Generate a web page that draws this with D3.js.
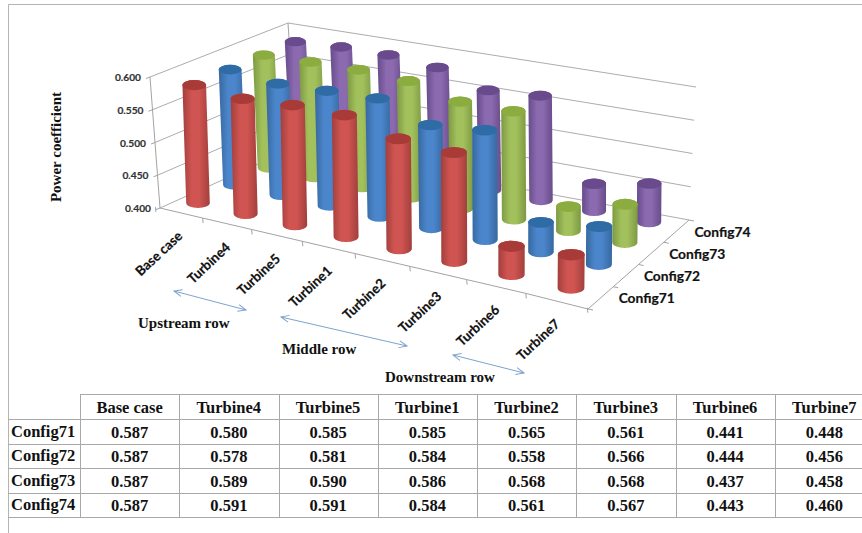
<!DOCTYPE html>
<html><head><meta charset="utf-8">
<script src="https://cdnjs.cloudflare.com/ajax/libs/d3/7.8.5/d3.min.js"></script>
<style>html,body{margin:0;padding:0;background:#fff}svg{display:block}</style>
</head><body><svg id="c" width="862" height="533"></svg>
<script>
const categories=["Base case","Turbine4","Turbine5","Turbine1","Turbine2","Turbine3","Turbine6","Turbine7"];
const configs=["Config71","Config72","Config73","Config74"];
const config71=[0.587,0.580,0.585,0.585,0.565,0.561,0.441,0.448];
const config72=[0.587,0.578,0.581,0.584,0.558,0.566,0.444,0.456];
const config73=[0.587,0.589,0.590,0.586,0.568,0.568,0.437,0.458];
const config74=[0.587,0.591,0.591,0.584,0.561,0.567,0.443,0.460];
const series=[config71,config72,config73,config74];
const valueTicks=[0.4,0.45,0.5,0.55,0.6];
const colors=[
 {mid:"#d05552",edge:"#a23f3c",top:"#a83b38"},
 {mid:"#4b86cc",edge:"#37689f",top:"#2f6ca6"},
 {mid:"#a2c15c",edge:"#7c9943",top:"#8bac3f"},
 {mid:"#8c6ab0",edge:"#674c8a",top:"#694a8c"}];

const svg=d3.select("#c");
const defs=svg.append("defs");
colors.forEach((c,k)=>{
 const g=defs.append("linearGradient").attr("id","g"+k).attr("x1",0).attr("x2",1).attr("y1",0).attr("y2",0);
 [[0,c.edge],[.35,c.mid],[.6,c.mid],[1,c.edge]].forEach(s=>g.append("stop").attr("offset",s[0]).attr("stop-color",s[1]));
});
const mk=defs.append("marker").attr("id","ah").attr("markerWidth",12).attr("markerHeight",10).attr("refX",9).attr("refY",4)
 .attr("orient","auto-start-reverse").attr("markerUnits","userSpaceOnUse");
mk.append("path").attr("d","M1,0.5L9,4L1,7.5").attr("fill","none").attr("stroke","#7ea3cc").attr("stroke-width",1);

function homography(p){
 const [a,b,c,d]=p;
 const dx1=b[0]-c[0],dx2=d[0]-c[0],sx=a[0]-b[0]+c[0]-d[0];
 const dy1=b[1]-c[1],dy2=d[1]-c[1],sy=a[1]-b[1]+c[1]-d[1];
 const det=dx1*dy2-dx2*dy1;
 const g=(sx*dy2-dx2*sy)/det,h=(dx1*sy-sx*dy1)/det;
 const A=b[0]-a[0]+g*b[0],B=d[0]-a[0]+h*d[0],C=a[0];
 const D=b[1]-a[1]+g*b[1],E=d[1]-a[1]+h*d[1],F=a[1];
 return (u,v)=>{const w=g*u+h*v+1;return[(A*u+B*v+C)/w,(D*u+E*v+F)/w];};
}
const cellH=homography([[198,203],[571,288],[649,222],[301,152]]);
const wallBottom=[[160,208],[296,147],[689,220]];
const wallTop=[[150,77],[288,23],[696,87]];
const frontRight=[588,309],backRight=wallBottom[2];

const x=d3.scalePoint().domain(categories).range([0,1]);
const z=d3.scalePoint().domain(configs).range([0,1]);
const y=d3.scaleLinear().domain([0.4,0.6]).range([0,1]);
const uStep=x.step(),vStep=z.step(),vMin=-vStep/2,uMin=-uStep/2;
const rightEdge=d3.scaleLinear().domain([0,4]).range([0,1]);
const rightPoint=t=>{const f=rightEdge(t);return[frontRight[0]+(backRight[0]-frontRight[0])*f,frontRight[1]+(backRight[1]-frontRight[1])*f];};
const bilin=(u,v,q)=>(1-v)*((1-u)*q[0]+u*q[1])+v*((1-u)*q[3]+u*q[2]);
const fullHeight=[126,139,128,118],lean=[-4,1,1,-6],radiusQ=[11.8,13.4,12.2,10.6];
const line=d3.line();
const gridCol="#a3a3a3";
const G=svg.append("g");

G.append("path").attr("d","M8.5,533V4.5H862").attr("fill","none").attr("stroke","#b4b4b4");

// walls
valueTicks.forEach(t=>{
 const f=y(t),pts=wallBottom.map((b,i)=>[b[0]+(wallTop[i][0]-b[0])*f,b[1]+(wallTop[i][1]-b[1])*f]);
 G.append("path").attr("d",line(pts)).attr("fill","none").attr("stroke",gridCol).attr("stroke-width",.9);
 const p=pts[0];
 G.append("path").attr("d",line([p,[p[0]-4,p[1]+1.5]])).attr("stroke",gridCol);
 G.append("text").attr("x",p[0]-9).attr("y",p[1]).attr("text-anchor","end").attr("dominant-baseline","central")
  .attr("font-family","Lato").attr("font-weight",700).attr("font-size",10.2).attr("fill","#333").attr("stroke","#333").attr("stroke-width",.2).text(t.toFixed(3));
});
[0,1].forEach(i=>G.append("path").attr("d",line([wallBottom[i],wallTop[i]])).attr("stroke",gridCol).attr("fill","none"));
// floor edges
const frontTicks=d3.range(9).map(i=>cellH(uMin+i*uStep,vMin));
G.append("path").attr("d",line([wallBottom[0],...frontTicks.slice(1,8),frontRight,backRight])).attr("fill","none").attr("stroke",gridCol);
frontTicks.forEach(p=>G.append("path").attr("d",line([p,[p[0]+.5,p[1]+5]])).attr("stroke",gridCol));
d3.range(5).forEach(j=>{
 const p=rightPoint(j);
 G.append("path").attr("d",line([p,[p[0]+5,p[1]+1]])).attr("stroke",gridCol);
});

// category labels
categories.forEach(c=>{
 const p=cellH(x(c),vMin);
 G.append("text").attr("transform",`translate(${p[0]+1},${p[1]+21}) rotate(-43)`).attr("text-anchor","end").attr("dominant-baseline","central")
  .attr("font-family","Lato").attr("font-weight",700).attr("font-size",13.4).attr("fill","#111").attr("stroke","#111").attr("stroke-width",.2).text(c);
});
configs.forEach((c,j)=>{
 const p=rightPoint(j+.5);
 G.append("text").attr("x",p[0]+18).attr("y",p[1]).attr("dominant-baseline","central")
  .attr("font-family","Lato").attr("font-weight",700).attr("font-size",13.8).attr("fill","#111").attr("stroke","#111").attr("stroke-width",.2).text(c);
});

// cylinders back to front
d3.range(3,-1,-1).forEach(j=>{
 categories.forEach((c,i)=>{
  const v=series[j][i],u=x(c),w=z(configs[j]);
  const b=cellH(u,w),f=y(v);
  const t=[b[0]+bilin(u,w,lean)*f,b[1]-bilin(u,w,fullHeight)*f];
  const rx=bilin(u,w,radiusQ),ry=rx*.43;
  const d=`M${t[0]-rx},${t[1]}L${b[0]-rx},${b[1]}A${rx},${ry} 0 0 0 ${b[0]+rx},${b[1]}L${t[0]+rx},${t[1]}A${rx},${ry} 0 0 0 ${t[0]-rx},${t[1]}Z`;
  G.append("path").attr("d",d).attr("fill",`url(#g${j})`);
  G.append("ellipse").attr("cx",t[0]).attr("cy",t[1]).attr("rx",rx).attr("ry",ry).attr("fill",colors[j].top);
 });
});

// annotations
const serif="'Liberation Serif'";
G.append("text").attr("transform","translate(56,147) rotate(-90)").attr("text-anchor","middle").attr("dominant-baseline","central")
 .attr("font-family",serif).attr("font-weight",700).attr("font-size",15).attr("fill","#111").text("Power coefficient");
const rowLabels=["Upstream row","Middle row","Downstream row"];
const rowLabelX=[138,282,385],rowLabelY=[323,349,377];
rowLabels.forEach((t,i)=>G.append("text").attr("x",rowLabelX[i]).attr("y",rowLabelY[i]).attr("dominant-baseline","central")
 .attr("font-family",serif).attr("font-weight",700).attr("font-size",15).attr("fill","#111").text(t));
const arrows=[[[174,291],[246,310]],[[281,317],[407,346]],[[453,355],[524,373]]];
arrows.forEach(a=>G.append("path").attr("d",line(a)).attr("fill","none").attr("stroke","#7ea3cc").attr("stroke-width",1)
 .attr("marker-start","url(#ah)").attr("marker-end","url(#ah)"));

// data table
const T=svg.append("g");
const col=d3.scaleBand().domain(categories).range([80,874]);
const rowEdges=[394,419,444,468,493,517];
const tc="#a8a8a8";
T.append("path").attr("d",`M80,${rowEdges[0]+.5}H862`).attr("stroke",tc).attr("fill","none");
rowEdges.slice(1).forEach(r=>T.append("path").attr("d",`M8,${r+.5}H862`).attr("stroke",tc).attr("fill","none"));
categories.forEach(c=>{
 const X=Math.round(col(c))+.5;
 T.append("path").attr("d",`M${X},394V517`).attr("stroke",tc).attr("fill","none");
 T.append("text").attr("x",col(c)+col.bandwidth()/2).attr("y",407).attr("text-anchor","middle").attr("dominant-baseline","central")
  .attr("font-family",serif).attr("font-weight",700).attr("font-size",16.5).attr("fill","#111").text(c);
});
configs.forEach((c,j)=>{
 const Y=(rowEdges[j+1]+rowEdges[j+2])/2;
 T.append("text").attr("x",11).attr("y",Y-.5).attr("dominant-baseline","central")
  .attr("font-family",serif).attr("font-weight",700).attr("font-size",16.5).attr("fill","#111").text(c);
 categories.forEach((k,i)=>T.append("text").attr("x",col(k)+col.bandwidth()/2).attr("y",Y+.5).attr("text-anchor","middle").attr("dominant-baseline","central")
  .attr("font-family",serif).attr("font-weight",700).attr("font-size",16.5).attr("fill","#111").text(series[j][i].toFixed(3)));
});
</script></body></html>
